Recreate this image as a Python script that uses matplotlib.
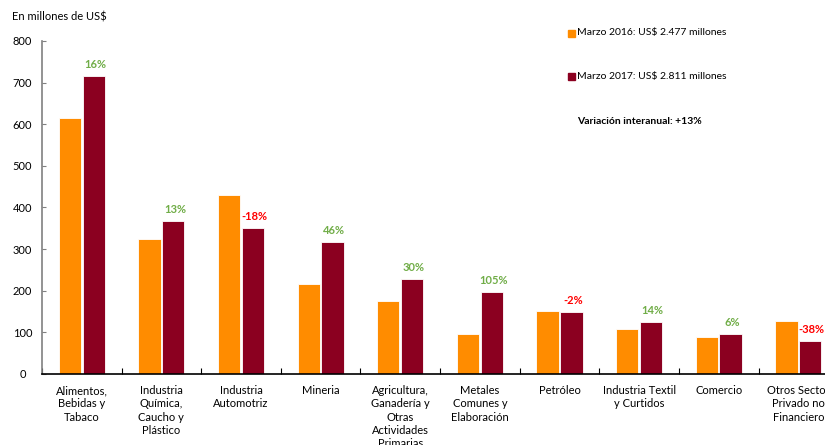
import numpy as np
import matplotlib.pyplot as plt
from matplotlib.patches import Rectangle

categorias = ["Alimentos,\nBebidas y\nTabaco", "Industria\nQuímica,\nCaucho y\nPlástico",
              "Industria\nAutomotriz", "Mineria", "Agricultura,\nGanadería y\nOtras\nActividades\nPrimarias",
              "Metales\nComunes y\nElaboración", "Petróleo", "Industria Textil\ny Curtidos",
              "Comercio", "Otros Sector\nPrivado no\nFinanciero"]
marzo_2016 = [615, 324, 430, 216, 175, 96, 151, 108, 89, 127]
marzo_2017 = [716, 368, 351, 317, 228, 197, 149, 125, 96, 79]
variacion = [16, 13, -18, 46, 30, 105, -2, 14, 6, -38]

c16 = "#FF8C00"
c17 = "#8B0020"
verde = "#70AD47"
rojo = "#FF0000"

plt.rcParams['font.family'] = ['Lato', 'DejaVu Sans']

fig = plt.figure(figsize=(8.25, 4.45), dpi=100)
ax = fig.add_axes([0.0509, 0.1596, 0.965, 0.7484])

x = np.arange(len(categorias))
w = 0.28
ax.bar(x - w / 2 - 0.01, marzo_2016, w, color=c16, edgecolor="white", linewidth=0.6)
ax.bar(x + w / 2 + 0.01, marzo_2017, w, color=c17, edgecolor="white", linewidth=0.6)

for xi, v, p in zip(x, marzo_2017, variacion):
    ax.text(xi + w / 2 + 0.03, v + 14, f"{p}%", ha="center", va="bottom",
            fontsize=8, fontweight="bold", color=verde if p >= 0 else rojo)

ax.set_xlim(-0.5, len(categorias) - 0.5)
ax.set_ylim(0, 800)
ax.set_yticks(range(0, 801, 100))
ax.set_xticks(x)
ax.set_xticklabels(categorias, fontsize=8, linespacing=1.25)
ax.set_xticks(np.arange(-0.5, len(categorias), 1), minor=True)
ax.tick_params(axis="x", which="major", length=0, pad=8)
ax.tick_params(axis="x", which="minor", direction="in", length=4, width=0.8)
ax.tick_params(axis="y", direction="in", length=3, labelsize=8, pad=14, color="#808080")
for lab in ax.get_yticklabels():
    lab.set_horizontalalignment("center")

ax.spines["top"].set_visible(False)
ax.spines["right"].set_visible(False)
ax.spines["left"].set_color("#808080")
ax.spines["left"].set_linewidth(1.2)
ax.spines["bottom"].set_linewidth(1.2)

fig.text(12 / 825, 1 - 17 / 445, "En millones de US$", fontsize=8, va="center")

# legend drawn as squares plus text
for yy, col, txt in [(33, c16, "Marzo 2016: US$ 2.477 millones"),
                     (77, c17, "Marzo 2017: US$ 2.811 millones")]:
    fig.patches.append(Rectangle((568 / 825, 1 - (yy + 3.5) / 445), 7 / 825, 7 / 445,
                                 transform=fig.transFigure, color=col))
    fig.text(577 / 825, 1 - yy / 445, txt, fontsize=7.5, va="center")
fig.text(577 / 825, 1 - 121 / 445, "Variación interanual: +13%", fontsize=7.5,
         fontweight="bold", va="center")

fig.savefig("out.png", dpi=100)
